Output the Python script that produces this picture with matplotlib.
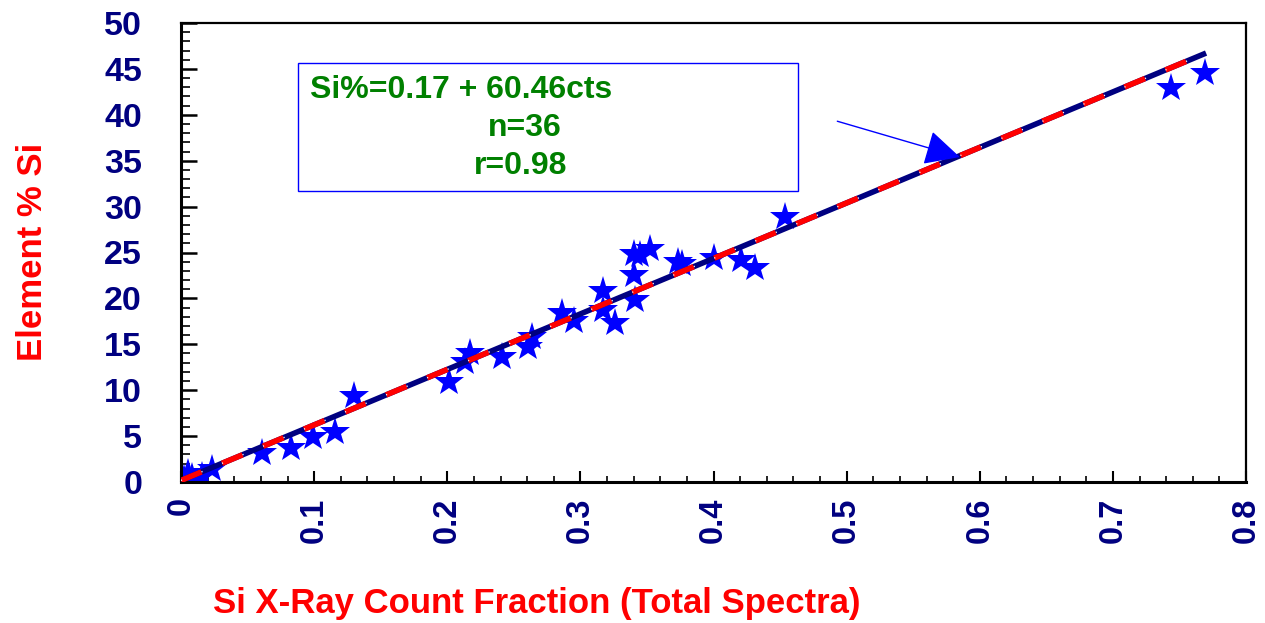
import numpy as np
import matplotlib
matplotlib.use('Agg')
import matplotlib.pyplot as plt

plt.rcParams['font.family'] = ['Liberation Sans', 'DejaVu Sans']
plt.rcParams['font.weight'] = 'bold'

#Donnees
cts = [0.002, 0.005, 0.008, 0.016, 0.023, 0.061, 0.083, 0.099, 0.116, 0.130,
       0.201, 0.213, 0.217, 0.241, 0.261, 0.264, 0.286, 0.295, 0.317, 0.317,
       0.326, 0.340, 0.340, 0.345, 0.352, 0.341, 0.373, 0.376, 0.400, 0.421,
       0.431, 0.454, 0.744, 0.769]
si_pct = [0.3, 1.0, 0.5, 0.6, 1.4, 3.2, 3.7, 4.9, 5.5, 9.4,
          10.9, 13.1, 14.1, 13.6, 14.7, 15.8, 18.4, 17.5, 20.8, 18.7,
          17.3, 22.5, 24.8, 24.7, 25.4, 19.8, 24.0, 23.8, 24.4, 24.2,
          23.3, 28.9, 42.9, 44.6]

#Droite de regression
intercept = 0.17
slope = 60.46
fit_range = [0.0, 0.77]

x_ticks = [0, 0.1, 0.2, 0.3, 0.4, 0.5, 0.6, 0.7, 0.8]
x_ticklabels = ['0', '0.1', '0.2', '0.3', '0.4', '0.5', '0.6', '0.7', '0.8']
y_ticks = [0, 5, 10, 15, 20, 25, 30, 35, 40, 45, 50]

navy = '#000080'

fig = plt.figure(figsize=(12.65, 6.23), dpi=100)
ax = fig.add_axes([181/1265, 141/623, 1065/1265, 459/623])

ax.plot(cts, si_pct, linestyle='none', marker='*', markersize=22, color='#0000FF',
        markeredgewidth=0, zorder=2)

xf = np.array(fit_range)
yf = intercept + slope*xf
ax.plot(xf, yf, color=navy, lw=4.0, zorder=3, solid_capstyle='butt')
ax.plot(xf, yf, color='#FF0000', lw=4.0, dashes=(4, 4), zorder=4)
ax.plot(xf, yf, color='white', lw=1.0, dashes=(0.8, 15.2), dash_capstyle='butt', zorder=5)

ax.set_xlim(0, 0.8)
ax.set_ylim(0, 50)
ax.set_xticks(x_ticks)
ax.set_xticklabels(x_ticklabels, rotation=90, color=navy, fontsize=23.5, fontweight='bold')
ax.set_xticks(np.arange(0, 0.8001, 0.02), minor=True)
ax.set_yticks(y_ticks)
ax.set_yticklabels([str(v) for v in y_ticks], color=navy, fontsize=24.5, fontweight='bold')
ax.set_yticks(np.arange(0, 50.1, 1), minor=True)

ax.tick_params(axis='x', which='major', direction='in', length=8, width=1.5, pad=11)
ax.tick_params(axis='x', which='minor', direction='in', length=4.5, width=1.2)
ax.tick_params(axis='y', which='major', direction='in', length=11.5, width=1.8, pad=28)
ax.tick_params(axis='y', which='minor', direction='in', length=6.5, width=1.2)
for lab in ax.get_xticklabels():
    lab.set_va('top')

for s in ['left', 'bottom']:
    ax.spines[s].set_linewidth(2.2)
for s in ['top', 'right']:
    ax.spines[s].set_linewidth(1.6)

#Encadre de l'equation
box = plt.Rectangle((0.088, 31.7), 0.3756, 13.9, fill=False, edgecolor='#0000FF', lw=1.0, zorder=6)
ax.add_patch(box)
ax.text(0.097, 42.7, 'Si%=0.17 + 60.46cts', color='#008000', fontsize=23, fontweight='bold',
        ha='left', va='center', zorder=7)
ax.text(0.258, 38.6, 'n=36', color='#008000', fontsize=23, fontweight='bold',
        ha='center', va='center', zorder=7)
ax.text(0.255, 34.4, 'r=0.98', color='#008000', fontsize=23, fontweight='bold',
        ha='center', va='center', zorder=7)

ax.annotate('', xy=(0.585, 35.4), xytext=(0.493, 39.3),
            arrowprops=dict(arrowstyle='-|>,head_length=1.1,head_width=0.55', color='#0000FF',
                            lw=1.0, mutation_scale=20, shrinkA=0, shrinkB=0), zorder=8)

fig.text(33/1265, 1-252/623, 'Element % Si', rotation=90, color='#FF0000', fontsize=25,
         fontweight='bold', ha='center', va='center')
fig.text(537/1265, 1-604/623, 'Si X-Ray Count Fraction (Total Spectra)', color='#FF0000',
         fontsize=25, fontweight='bold', ha='center', va='center')

plt.savefig('out.png', dpi=100)
